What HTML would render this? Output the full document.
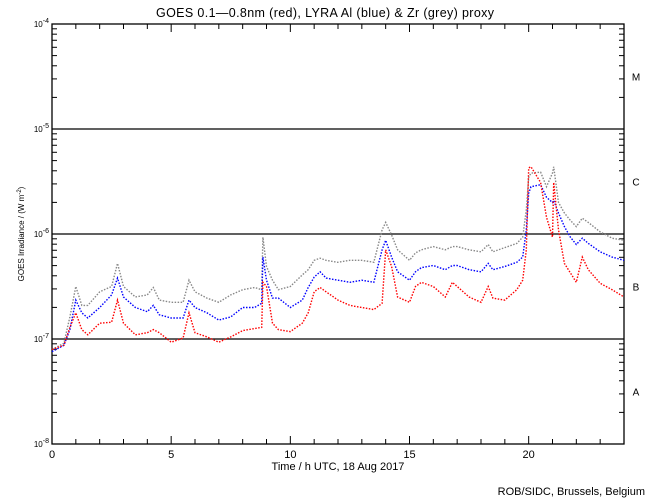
<!DOCTYPE html>
<html><head><meta charset="utf-8"><style>
html,body{margin:0;padding:0;background:#fff;}
svg{display:block;font-family:"Liberation Sans",sans-serif;}
</style></head><body>
<svg id="chart" width="650" height="500" viewBox="0 0 650 500" xmlns="http://www.w3.org/2000/svg">
<rect width="650" height="500" fill="#fff"/>
<text x="325" y="17" font-size="12.5" text-anchor="middle" fill="#000" textLength="338" lengthAdjust="spacing">GOES 0.1—0.8nm (red), LYRA Al (blue) &amp; Zr (grey) proxy</text>
<text transform="translate(24,234) rotate(-90)" font-size="8" text-anchor="middle" fill="#000">GOES Irradiance / (W m<tspan dy="-3" font-size="6">-2</tspan><tspan dy="3">)</tspan></text>
<text x="338" y="470" font-size="11" text-anchor="middle" fill="#000">Time / h UTC, 18 Aug 2017</text>
<text x="645" y="495" font-size="11" text-anchor="end" fill="#000">ROB/SIDC, Brussels, Belgium</text>
<g id="axes"></g>
<g id="series"></g>
</svg>
<script>
const hours=[0,0.5,0.75,1,1.25,1.5,2,2.5,2.75,3,3.5,4,4.25,4.5,5,5.5,5.75,6,6.5,7,7.5,8,8.5,8.8,8.85,9,9.25,9.5,10,10.5,10.75,11,11.25,11.5,12,12.5,13,13.5,13.85,14,14.25,14.5,15,15.25,15.5,16,16.5,16.8,17,17.5,18,18.3,18.5,19,19.5,19.75,19.9,20,20.1,20.5,20.75,21,21.05,21.25,21.5,21.75,22,22.25,22.5,23,23.5,24];
const goesLog=[-7.10,-7.06,-6.89,-6.75,-6.91,-6.96,-6.85,-6.84,-6.63,-6.85,-6.96,-6.94,-6.91,-6.94,-7.03,-6.99,-6.75,-6.94,-6.98,-7.03,-6.98,-6.92,-6.90,-6.89,-6.46,-6.50,-6.85,-6.91,-6.93,-6.85,-6.75,-6.55,-6.51,-6.55,-6.63,-6.68,-6.70,-6.72,-6.66,-6.15,-6.31,-6.60,-6.65,-6.50,-6.46,-6.50,-6.60,-6.46,-6.50,-6.60,-6.65,-6.50,-6.61,-6.63,-6.53,-6.44,-6.15,-5.37,-5.36,-5.51,-5.84,-6.03,-5.51,-5.96,-6.28,-6.37,-6.46,-6.22,-6.34,-6.47,-6.53,-6.60];
const lyraAlLog=[-7.12,-7.06,-6.91,-6.63,-6.75,-6.80,-6.70,-6.58,-6.42,-6.60,-6.70,-6.74,-6.68,-6.77,-6.80,-6.80,-6.63,-6.70,-6.75,-6.82,-6.79,-6.70,-6.70,-6.66,-6.22,-6.44,-6.61,-6.61,-6.70,-6.63,-6.51,-6.41,-6.36,-6.42,-6.44,-6.46,-6.44,-6.46,-6.15,-6.06,-6.22,-6.36,-6.44,-6.36,-6.32,-6.30,-6.34,-6.30,-6.30,-6.34,-6.36,-6.28,-6.34,-6.31,-6.27,-6.22,-5.96,-5.61,-5.55,-5.53,-5.65,-5.70,-5.68,-5.80,-5.93,-6.03,-6.10,-6.04,-6.09,-6.17,-6.22,-6.25];
const lyraZrLog=[-7.10,-7.04,-6.79,-6.50,-6.68,-6.68,-6.55,-6.50,-6.28,-6.50,-6.60,-6.58,-6.51,-6.63,-6.65,-6.65,-6.44,-6.55,-6.61,-6.65,-6.58,-6.53,-6.51,-6.53,-6.03,-6.31,-6.44,-6.53,-6.50,-6.39,-6.34,-6.25,-6.23,-6.25,-6.27,-6.25,-6.25,-6.27,-5.96,-5.89,-6.01,-6.15,-6.25,-6.18,-6.15,-6.12,-6.15,-6.12,-6.12,-6.15,-6.17,-6.10,-6.17,-6.13,-6.09,-6.03,-5.77,-5.46,-5.42,-5.41,-5.55,-5.42,-5.36,-5.70,-5.80,-5.87,-5.93,-5.85,-5.89,-5.98,-6.04,-6.06];
const xTicks=[0,5,10,15,20];
const yDecades=[-4,-5,-6,-7,-8];
const flareClasses=["M","C","B","A"];

const NS="http://www.w3.org/2000/svg";
const L=52,R=624,T=24,B=444;
const xs=h=>L+(R-L)*h/24;
const ys=lg=>T+(-4-lg)*(B-T)/4;
const axes=document.getElementById('axes');
const ser=document.getElementById('series');
function mk(tag,attrs,parent){const e=document.createElementNS(NS,tag);for(const k in attrs)e.setAttribute(k,attrs[k]);parent.appendChild(e);return e;}

const frame=mk('rect',{x:L,y:T,width:R-L,height:B-T,fill:'none',stroke:'#000','stroke-width':1.3},axes);



[-5,-6,-7].forEach(d=>{
  const ln=mk('line',{x1:L,x2:R,y1:ys(d),y2:ys(d),stroke:'#000','stroke-width':1.2},axes);
  
  
});

yDecades.forEach(d=>{
  const t=mk('text',{x:L-3,y:ys(d)+3,'font-size':8,'text-anchor':'end',fill:'#000'},axes);
  
  
  t.innerHTML='10<tspan dy="-4" font-size="7">'+d+'</tspan>';
  if(d>-8){
    for(let m=2;m<=9;m++){
      const y=ys(d-1+Math.log10(m));
      const a=mk('line',{x1:L,x2:L+5,y1:y,y2:y,stroke:'#000'},axes);
      
      
      const b=mk('line',{x1:R-5,x2:R,y1:y,y2:y,stroke:'#000'},axes);
      
      
    }
  }
});

for(let h=0;h<=24;h++){
  const major=xTicks.includes(h);const len=major?8:5;
  const a=mk('line',{x1:xs(h),x2:xs(h),y1:B,y2:B-len,stroke:'#000'},axes);
  
  
  const b=mk('line',{x1:xs(h),x2:xs(h),y1:T,y2:T+len,stroke:'#000'},axes);
  
  
}
xTicks.forEach(h=>{
  const t=mk('text',{x:xs(h),y:B+14,'font-size':11,'text-anchor':'middle',fill:'#000'},axes);
  
  
  t.textContent=h;
});

flareClasses.forEach((c,i)=>{
  const t=mk('text',{x:636,y:ys(-4.5-i)+4,'font-size':10,'text-anchor':'middle',fill:'#000'},axes);
  
  
  t.textContent=c;
});

function drawSeries(vals,color,name){
  const pts=vals.map((v,i)=>xs(hours[i]).toFixed(1)+','+ys(v).toFixed(1)).join(' ');
  const p=mk('polyline',{points:pts,fill:'none',stroke:color,'stroke-width':1.4,'stroke-dasharray':'1.5 1.5'},ser);
  
  
}
drawSeries(lyraZrLog,'#888888','lyra-zr-series');
drawSeries(lyraAlLog,'#0000ff','lyra-al-series');
drawSeries(goesLog,'#ff0000','goes-series');
</script>
</body></html>
